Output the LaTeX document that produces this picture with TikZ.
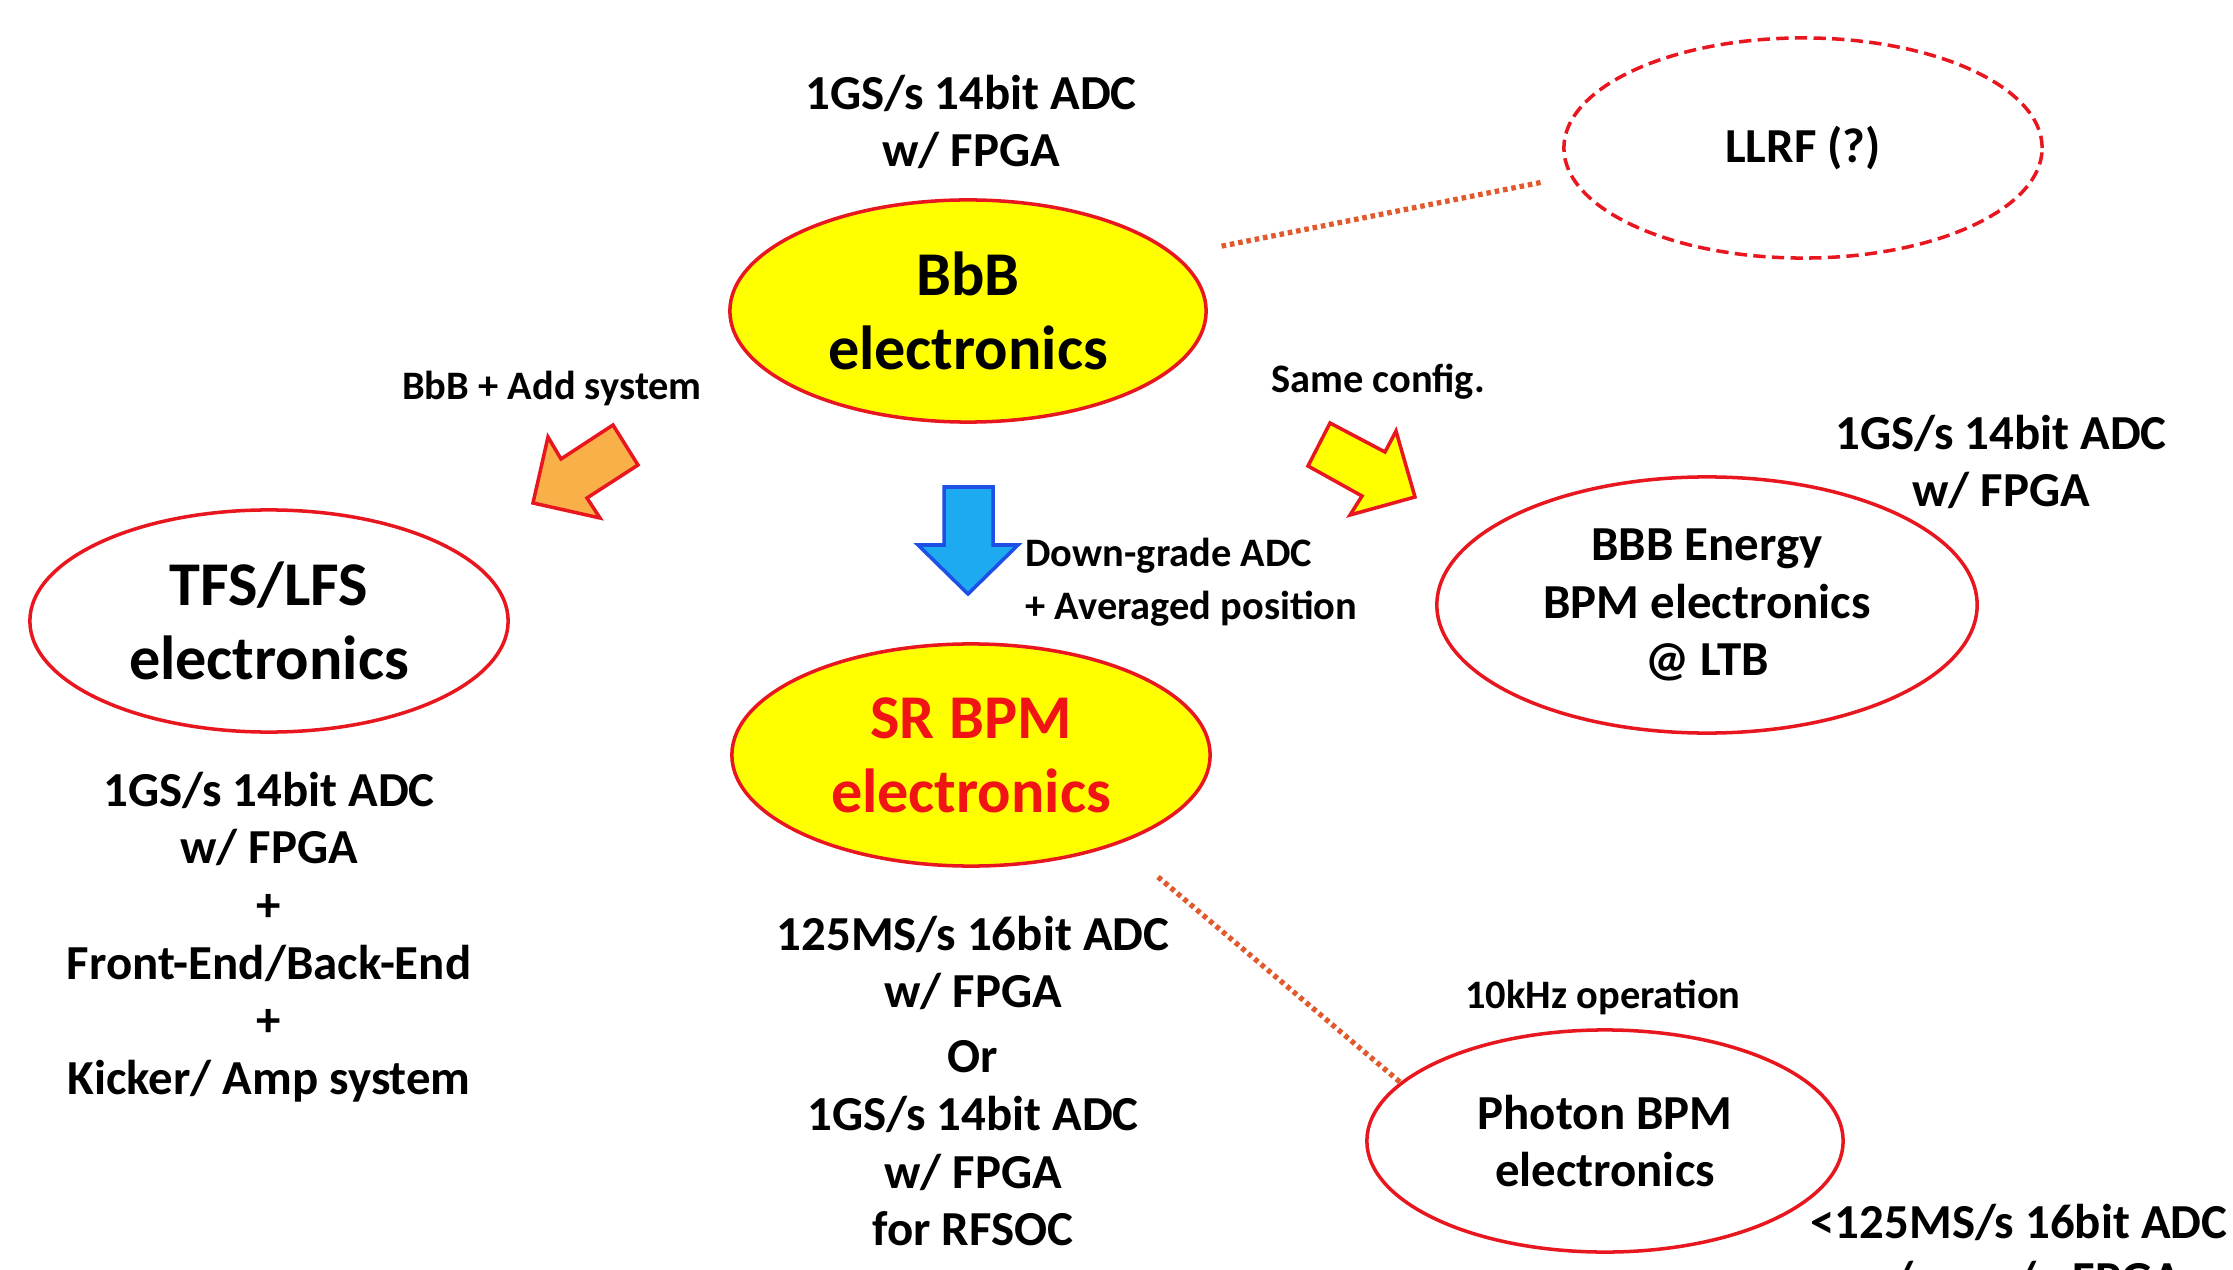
\documentclass[tikz,border=0pt]{standalone}
\usepackage{fontspec}
\setmainfont{Carlito}
\usetikzlibrary{shapes.geometric}
\definecolor{redline}{RGB}{232,22,30}
\definecolor{yel}{RGB}{255,255,0}
\definecolor{orng}{RGB}{250,176,72}
\definecolor{bluefill}{RGB}{30,170,240}
\definecolor{blueline}{RGB}{30,80,230}
\definecolor{dotcol}{RGB}{225,90,45}
\definecolor{srred}{RGB}{240,20,20}
\begin{document}
\begin{tikzpicture}[x=0.01cm,y=-0.01cm,
  ell/.style={ellipse, draw=redline, line width=1pt, inner sep=0pt},
  big/.style={font=\bfseries\fontsize{17.7}{21}\selectfont, align=center},
  main/.style={font=\bfseries\fontsize{13.9}{16.4}\selectfont, align=center},
  small/.style={font=\bfseries\fontsize{11.5}{14.2}\selectfont, align=center},
  linkdot/.style={draw=dotcol, line width=1.5pt, dash pattern=on 1.3pt off 1.1pt},
  blockarrow/.style={draw=redline, line width=1pt, line join=miter},
]
\useasboundingbox (0,0) rectangle (2233,1270);
\clip (0,0) rectangle (2233,1270);

% ellipses
\node[ell, fill=yel, minimum width=4.76cm, minimum height=2.22cm, big] (BbB) at (968,311) {BbB\\electronics};
\node[ell, dash pattern=on 3.5pt off 1.8pt, minimum width=4.78cm, minimum height=2.2cm, main] (LLRF) at (1803,148) {LLRF (?)};
\node[ell, minimum width=4.78cm, minimum height=2.22cm, big] (TFS) at (269,621) {TFS/LFS\\electronics};
\node[ell, fill=yel, minimum width=4.78cm, minimum height=2.22cm, big, text=srred] (SR) at (971,755) {SR BPM\\electronics};
\node[ell, minimum width=5.4cm, minimum height=2.56cm, main] (BBBE) at (1707,605) {BBB Energy\\BPM electronics\\@ LTB};
\node[ell, minimum width=4.76cm, minimum height=2.22cm, main] (PH) at (1605,1141) {Photon BPM\\electronics};

% labels
\node[main] (lTop) at (971,122) {1GS/s 14bit ADC\\w/ FPGA};
\node[main] (lRight) at (2001,462) {1GS/s 14bit ADC\\w/ FPGA};
\node[main] (lTFS) at (269,937) {1GS/s 14bit ADC\\w/ FPGA\\+\\Front-End/Back-End\\+\\Kicker/ Amp system};
\node[main] (lSR) at (973,1081) {125MS/s 16bit ADC\\w/ FPGA\\[2pt]Or\\1GS/s 14bit ADC\\w/ FPGA\\for RFSOC};
\node[main] (lPH) at (2019,1251) {<125MS/s 16bit ADC\\w/ or w/o FPGA};
\node[small] (lAdd) at (552,388) {BbB + Add system};
\node[small] (lSame) at (1378,382) {Same config.};
\node[small] (l10k) at (1603,997) {10kHz operation};
\node[small, align=left, anchor=west] (lDown) at (1013,582) {Down-grade ADC\\[1pt]+ Averaged position};

% dotted links
\draw[linkdot, shorten <=0.46cm, shorten >=0.28cm] (BbB.15) -- (LLRF.187.5);
\draw[linkdot, shorten <=0.51cm] (SR.-31) -- (PH.164);

% block arrows
\draw[blockarrow, fill=orng] (533,503) -- (548,437) -- (561,459) -- (613,425) -- (638,465) -- (587,498) -- (600,518) -- cycle;
\draw[blockarrow, fill=yel] (1330,423) -- (1385,452) -- (1396,431) -- (1415,497) -- (1350,515) -- (1362,496) -- (1308,466) -- cycle;
\draw[draw=blueline, line width=1pt, fill=bluefill, line join=miter] (944,487) -- (993,487) -- (993,545) -- (1018,545) -- (968,594) -- (918,545) -- (944,545) -- cycle;
\end{tikzpicture}
\end{document}
